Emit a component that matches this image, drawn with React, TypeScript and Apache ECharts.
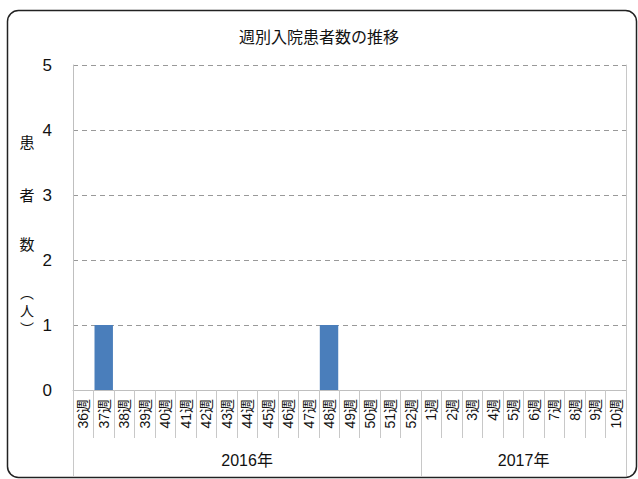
import React, { useEffect, useRef } from "react";
import * as echarts from "echarts";

const title = "週別入院患者数の推移";
const years = ["2016年", "2017年"];
const weeks2016 = ["36週", "37週", "38週", "39週", "40週", "41週", "42週", "43週", "44週", "45週", "46週", "47週", "48週", "49週", "50週", "51週", "52週"];
const weeks2017 = ["1週", "2週", "3週", "4週", "5週", "6週", "7週", "8週", "9週", "10週"];
const values2016 = [0, 1, 0, 0, 0, 0, 0, 0, 0, 0, 0, 0, 1, 0, 0, 0, 0];
const values2017 = [0, 0, 0, 0, 0, 0, 0, 0, 0, 0];
const yAxisNameParts = ["患", "者", "数", "︵\n人\n︶"];

const FONT = "'Liberation Sans', Arial, 'Noto Sans CJK JP', sans-serif";

export default function App() {
  const ref = useRef<HTMLDivElement>(null);
  useEffect(() => {
    if (!ref.current) return;
    const chart = echarts.init(ref.current, null, { renderer: "svg" });
    const categories = [...weeks2016, ...weeks2017];
    const values = [...values2016, ...values2017];
    const n = categories.length;
    const split = weeks2016.length;
    const nameYs = [141, 194, 243, 310];
    chart.setOption({
      animation: false,
      textStyle: { fontFamily: FONT },
      title: {
        text: title,
        left: "center",
        top: 24,
        textStyle: { fontSize: 16, fontWeight: "normal", color: "#111", fontFamily: FONT },
      },
      grid: { left: 73, right: 12, top: 65, bottom: 89, containLabel: false },
      graphic: [
        {
          type: "rect",
          shape: { x: 7.5, y: 10.5, width: 629, height: 467, r: 11 },
          style: { fill: "none", stroke: "#222", lineWidth: 1.5 },
          silent: true,
        },
        ...yAxisNameParts.map((c, i) => ({
          type: "text",
          x: 27,
          y: nameYs[i],
          style: {
            text: c,
            fill: "#111",
            font: (i < 3 ? 15 : 14) + "px 'Noto Sans CJK JP', sans-serif",
            lineHeight: 18,
            align: "center",
            verticalAlign: "middle",
          },
          silent: true,
        })),
      ],
      xAxis: [
        {
          type: "category",
          data: categories,
          position: "bottom",
          axisLine: { show: true, lineStyle: { color: "#bfbfbf", width: 1 } },
          axisTick: { show: true, interval: 0, length: 48, lineStyle: { color: "#c8c8c8" } },
          axisLabel: {
            interval: 0,
            rotate: 90,
            fontSize: 14,
            color: "#111",
            margin: 9,
            fontFamily: FONT,
          },
        },
        {
          type: "value",
          min: 0,
          max: n,
          position: "bottom",
          axisLine: { show: false },
          splitLine: { show: false },
          axisTick: {
            show: true,
            customValues: [0, split, n],
            length: 86,
            lineStyle: { color: "#c8c8c8" },
          },
          axisLabel: {
            show: true,
            customValues: [split / 2, split + (n - split) / 2],
            formatter: (v: number) => (v < split ? years[0] : years[1]),
            fontSize: 16,
            color: "#111",
            margin: 62,
            fontFamily: FONT,
          },
        },
      ],
      yAxis: [
        {
          type: "value",
          min: 0,
          max: 5,
          interval: 1,
          axisLine: { show: true, lineStyle: { color: "#bfbfbf" } },
          axisTick: { show: false },
          axisLabel: { fontSize: 17, color: "#111", margin: 21, fontFamily: FONT },
          splitLine: { show: true, lineStyle: { color: "#999", type: [5, 4], width: 1 } },
        },
        {
          type: "value",
          min: 0,
          max: 5,
          interval: 1,
          position: "right",
          axisLine: { show: true, lineStyle: { color: "#c8c8c8" } },
          axisTick: { show: false },
          axisLabel: { show: false },
          splitLine: { show: false },
        },
      ],
      series: [
        {
          type: "bar",
          data: values,
          xAxisIndex: 0,
          yAxisIndex: 0,
          barCategoryGap: "10%",
          itemStyle: { color: "#4a7ebb", borderWidth: 0 },
        },
      ],
    });
    return () => chart.dispose();
  }, []);
  return <div ref={ref} style={{ width: 638, height: 479, position: "absolute", left: 0, top: 0, background: "#fff" }} />;
}
